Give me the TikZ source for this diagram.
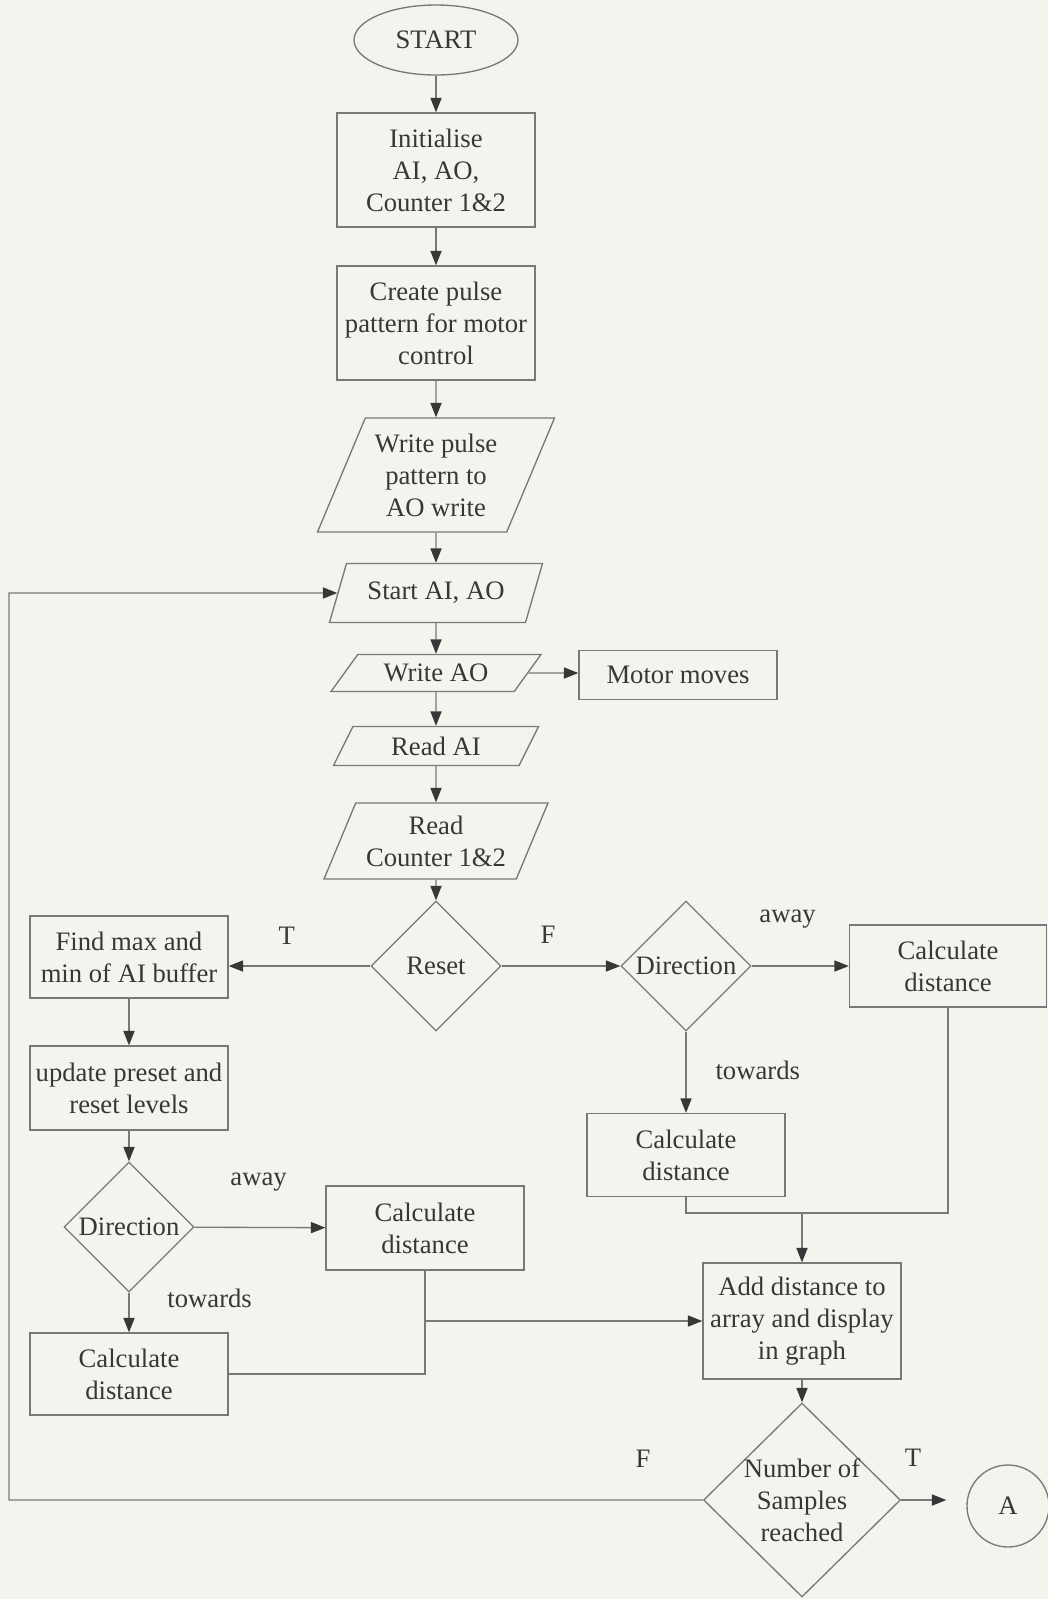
\documentclass[tikz,border=0pt]{standalone}
\usepackage{fontspec}
\setmainfont{Liberation Serif}
\usetikzlibrary{arrows.meta, positioning, shapes.geometric, calc}
\newcommand{\upx}{0.45pt}
\definecolor{paper}{RGB}{244,244,239}
\definecolor{ink}{RGB}{55,55,55}
\definecolor{rule}{RGB}{120,120,120}
\tikzset{
  box/.style={draw=rule, line width=0.6pt, rectangle, inner sep=0pt, align=center, text=ink,
    minimum width=198*\upx, minimum height=84*\upx},
  io/.style={draw=rule, line width=0.6pt, trapezium, trapezium stretches body,
    trapezium left angle=#1, trapezium right angle={180-#1}, inner sep=0pt, align=center, text=ink},
  io/.default=60,
  decision/.style={draw=rule, line width=0.6pt, diamond, inner sep=0pt, align=center, text=ink,
    minimum width=130*\upx, minimum height=130*\upx},
  terminal/.style={draw=rule, line width=0.6pt, ellipse, inner sep=0pt, text=ink,
    minimum width=164*\upx, minimum height=70*\upx},
  connector/.style={draw=rule, line width=0.6pt, circle, inner sep=0pt, text=ink,
    minimum size=82*\upx},
  wire/.style={draw=rule, line width=0.6pt},
  flow/.style={wire, -{Triangle[length=6.5pt, width=5pt, color=ink]}},
  lbl/.style={text=ink, inner sep=0pt},
}

\begin{document}
\begin{tikzpicture}[x=\upx, y=-\upx, font=\fontsize{12}{14.4}\selectfont]
  \fill[paper] (0,0) rectangle (1048,1599);
  \useasboundingbox (0,0) rectangle (1048,1599);

  % main column
  \node[terminal] (start) at (436,40) {START};
  \node[box, minimum height=114*\upx] (init) at (436,170) {Initialise\\AI, AO,\\Counter 1\&2};
  \node[box, minimum height=114*\upx] (pulse) at (436,323) {Create pulse\\pattern for motor\\control};
  \node[io=60, minimum width=237*\upx, minimum height=114*\upx] (wpulse) at (436,475) {Write pulse\\pattern to\\AO write};
  \node[io=52, minimum width=213*\upx, minimum height=59*\upx] (startai) at (436,593) {Start AI, AO};
  \node[io=34, minimum width=210*\upx, minimum height=37*\upx] (writeao) at (436,673) {Write AO};
  \node[io=44, minimum width=205*\upx, minimum height=39*\upx] (readai) at (436,746) {Read AI};
  \node[io=58, minimum width=224*\upx, minimum height=76*\upx] (readcnt) at (436,841) {Read\\Counter 1\&2};
  \node[box, minimum height=49*\upx] (motor) at (678,675) {Motor moves};
  \node[decision] (reset) at (436,966) {Reset};

  % reset branch
  \node[box, minimum height=82*\upx] (findmax) at (129,957) {Find max and\\min of AI buffer};
  \node[box] (update) at (129,1088) {update preset and\\reset levels};
  \node[decision] (dirleft) at (129,1227) {Direction};
  \node[box] (awayleft) at (425,1228) {Calculate\\distance};
  \node[box, minimum height=82*\upx] (towleft) at (129,1374) {Calculate\\distance};

  % no reset branch
  \node[decision] (dirright) at (686,966) {Direction};
  \node[box, minimum width=197*\upx, minimum height=82*\upx] (awayright) at (948,966) {Calculate\\distance};
  \node[box, minimum height=83*\upx] (towright) at (686,1155) {Calculate\\distance};
  \node[box, minimum height=116*\upx] (adddist) at (802,1321) {Add distance to\\array and display\\in graph};
  \node[decision, minimum width=197*\upx, minimum height=194*\upx, inner sep=-5pt] (samples) at (802,1500) {Number of\\Samples\\reached};
  \node[connector] (conA) at (1008,1506) {A};

  \coordinate (joinright) at (802,1213);
  \coordinate (loopleft) at (9,0);

  \draw[flow] (start) -- (init);
  \draw[flow] (init) -- (pulse);
  \draw[flow] (pulse) -- (wpulse);
  \draw[flow] (wpulse) -- (startai);
  \draw[flow] (startai) -- (writeao);
  \draw[flow] (writeao) -- (readai);
  \draw[flow] (readai) -- (readcnt);
  \draw[flow] (readcnt) -- (reset);
  \draw[flow] (writeao) -- (writeao -| motor.west);

  \draw[flow] (reset) -- node[lbl, above=9.5pt, pos=.59] {T} (reset -| findmax.east);
  \draw[flow] (reset) -- node[lbl, above=10pt, pos=.39] {F} (dirright);
  \draw[flow] (findmax) -- (update);
  \draw[flow] (update) -- (dirleft);
  \draw[flow] (dirleft) -- node[lbl, above=16pt, pos=.49] {away} (awayleft);
  \draw[flow] (dirleft) -- node[lbl, right=17pt, pos=.15] {towards} (towleft);
  \draw[flow] (dirright) -- node[lbl, above=16.5pt, pos=.37] {away} (awayright);
  \draw[flow] (dirright) -- node[lbl, right=13pt, pos=.48] {towards} (towright);

  % merge into the graph box
  \draw[wire] (awayright) |- (joinright -| towright) -- (towright);
  \draw[flow] (joinright) -- (adddist);
  \draw[wire] (awayleft) |- (towleft);
  \draw[flow] (awayleft |- adddist) -- (adddist);
  \draw[flow] (adddist) -- (samples);

  \draw[flow, shorten >=9pt] (samples) -- node[lbl, above=15pt, pos=.18] {T} (samples -| conA.west);
  \draw[flow] (samples) -| node[lbl, above=14.5pt, pos=.043] {F} (loopleft |- startai) -- (startai);
\end{tikzpicture}
\end{document}
